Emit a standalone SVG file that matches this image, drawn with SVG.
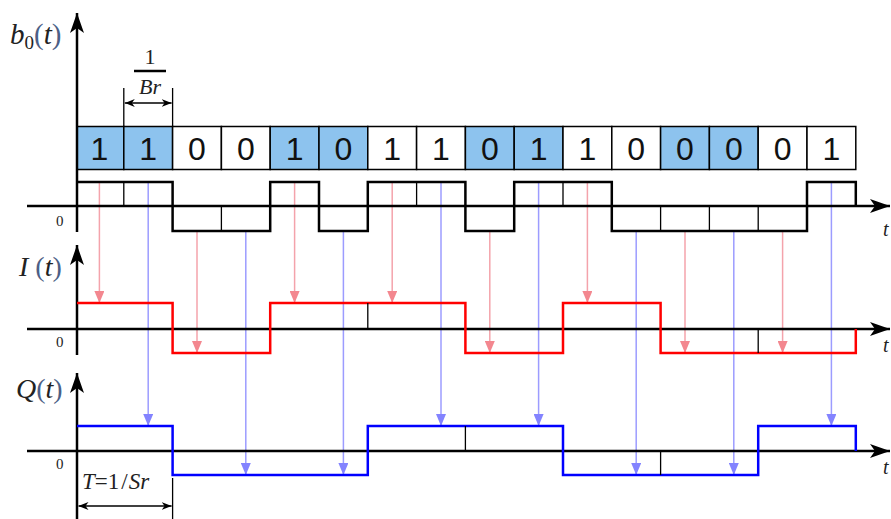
<svg xmlns="http://www.w3.org/2000/svg" width="891" height="519" viewBox="0 0 891 519">
<style>
.box{stroke:#000;stroke-width:1.5}
.bl{fill:#8dc3ee}
.wh{fill:#fff}
.dig{font-family:"Liberation Sans",Arial,sans-serif;font-size:32px;fill:#111;text-anchor:middle}
.ax{stroke:#000;stroke-width:2.5;fill:none}
.wave{stroke:#000;stroke-width:2.5;fill:none}
.div{stroke:#000;stroke-width:1.3}
.ar{stroke:#f4a3ab;stroke-width:1.5;fill:none}
.ab{stroke:#9c9cff;stroke-width:1.5;fill:none}
.m{font-family:"Liberation Serif","Times New Roman",serif;font-style:italic;fill:#222}
.up{font-style:normal}
.par{fill:#4c5f86;font-style:normal}
.z{font-family:"Liberation Serif","Times New Roman",serif;font-size:15px;fill:#222}
.dim{stroke:#000;stroke-width:1.3;fill:none}
</style>
<defs>
<marker id="hr" viewBox="0 0 12 10" refX="12" refY="5" markerWidth="12" markerHeight="10" markerUnits="userSpaceOnUse" orient="auto"><path d="M0,0 L12,5 L0,10 z" fill="#f3878f"/></marker>
<marker id="hb" viewBox="0 0 12 10" refX="12" refY="5" markerWidth="12" markerHeight="10" markerUnits="userSpaceOnUse" orient="auto"><path d="M0,0 L12,5 L0,10 z" fill="#8383ff"/></marker>
<marker id="ha" viewBox="0 0 20 14" refX="20" refY="7" markerWidth="20" markerHeight="14" markerUnits="userSpaceOnUse" orient="auto"><path d="M0,0 L20,7 L0,14 L5,7 z" fill="#000"/></marker>
<marker id="dh" viewBox="0 0 10 8" refX="10" refY="4" markerWidth="10" markerHeight="8" markerUnits="userSpaceOnUse" orient="auto-start-reverse"><path d="M0,0 L10,4 L0,8 L3,4 z" fill="#000"/></marker>
</defs>

<g id="bits">
<rect class="box bl" x="77" y="126.5" width="46.8" height="43"/>
<rect class="box bl" x="123.8" y="126.5" width="48.8" height="43"/>
<rect class="box wh" x="172.6" y="126.5" width="48.8" height="43"/>
<rect class="box wh" x="221.4" y="126.5" width="48.8" height="43"/>
<rect class="box bl" x="270.2" y="126.5" width="48.8" height="43"/>
<rect class="box bl" x="319" y="126.5" width="48.8" height="43"/>
<rect class="box wh" x="367.8" y="126.5" width="48.8" height="43"/>
<rect class="box wh" x="416.6" y="126.5" width="48.8" height="43"/>
<rect class="box bl" x="465.4" y="126.5" width="48.8" height="43"/>
<rect class="box bl" x="514.2" y="126.5" width="48.8" height="43"/>
<rect class="box wh" x="563" y="126.5" width="48.8" height="43"/>
<rect class="box wh" x="611.8" y="126.5" width="48.8" height="43"/>
<rect class="box bl" x="660.6" y="126.5" width="48.8" height="43"/>
<rect class="box bl" x="709.4" y="126.5" width="48.8" height="43"/>
<rect class="box wh" x="758.2" y="126.5" width="48.8" height="43"/>
<rect class="box wh" x="807" y="126.5" width="48.8" height="43"/>
<text class="dig" x="99.4" y="159.5">1</text>
<text class="dig" x="148.2" y="159.5">1</text>
<text class="dig" x="197" y="159.5">0</text>
<text class="dig" x="245.8" y="159.5">0</text>
<text class="dig" x="294.6" y="159.5">1</text>
<text class="dig" x="343.4" y="159.5">0</text>
<text class="dig" x="392.2" y="159.5">1</text>
<text class="dig" x="441" y="159.5">1</text>
<text class="dig" x="489.8" y="159.5">0</text>
<text class="dig" x="538.6" y="159.5">1</text>
<text class="dig" x="587.4" y="159.5">1</text>
<text class="dig" x="636.2" y="159.5">0</text>
<text class="dig" x="685" y="159.5">0</text>
<text class="dig" x="733.8" y="159.5">0</text>
<text class="dig" x="782.6" y="159.5">0</text>
<text class="dig" x="831.4" y="159.5">1</text>
</g>

<g id="connectors">
<line class="ar" x1="99.4" y1="182" x2="99.4" y2="303" marker-end="url(#hr)"/>
<line class="ab" x1="148.2" y1="182" x2="148.2" y2="426" marker-end="url(#hb)"/>
<line class="ar" x1="197" y1="231" x2="197" y2="353" marker-end="url(#hr)"/>
<line class="ab" x1="245.8" y1="231" x2="245.8" y2="475" marker-end="url(#hb)"/>
<line class="ar" x1="294.6" y1="182" x2="294.6" y2="303" marker-end="url(#hr)"/>
<line class="ab" x1="343.4" y1="231" x2="343.4" y2="475" marker-end="url(#hb)"/>
<line class="ar" x1="392.2" y1="182" x2="392.2" y2="303" marker-end="url(#hr)"/>
<line class="ab" x1="441" y1="182" x2="441" y2="426" marker-end="url(#hb)"/>
<line class="ar" x1="489.8" y1="231" x2="489.8" y2="353" marker-end="url(#hr)"/>
<line class="ab" x1="538.6" y1="182" x2="538.6" y2="426" marker-end="url(#hb)"/>
<line class="ar" x1="587.4" y1="182" x2="587.4" y2="303" marker-end="url(#hr)"/>
<line class="ab" x1="636.2" y1="231" x2="636.2" y2="475" marker-end="url(#hb)"/>
<line class="ar" x1="685" y1="231" x2="685" y2="353" marker-end="url(#hr)"/>
<line class="ab" x1="733.8" y1="231" x2="733.8" y2="475" marker-end="url(#hb)"/>
<line class="ar" x1="782.6" y1="231" x2="782.6" y2="353" marker-end="url(#hr)"/>
<line class="ab" x1="831.4" y1="182" x2="831.4" y2="426" marker-end="url(#hb)"/>
</g>

<g id="axes">
<line class="ax" x1="77" y1="232" x2="77" y2="13" marker-end="url(#ha)"/>
<line class="ax" x1="27" y1="206" x2="890" y2="206" marker-end="url(#ha)"/>
<line class="ax" x1="77" y1="355" x2="77" y2="245" marker-end="url(#ha)"/>
<line class="ax" x1="27" y1="329" x2="890" y2="329" marker-end="url(#ha)"/>
<line class="ax" x1="77" y1="519" x2="77" y2="373" marker-end="url(#ha)"/>
<line class="ax" x1="27" y1="451" x2="890" y2="451" marker-end="url(#ha)"/>
</g>

<g id="b0-wave">
<path class="wave" d="M77,182 H172.6 V231 H270.2 V182 H319 V231 H367.8 V182 H465.4 V231 H514.2 V182 H611.8 V231 H807 V182 H855.8 V206"/>
<path class="div" d="M123.8,182 V206 M221.4,206 V231 M416.6,182 V206 M563,182 V206 M660.6,206 V231 M709.4,206 V231 M758.2,206 V231"/>
</g>

<g id="I-wave">
<path class="wave" style="stroke:#ff0000" d="M77,303 H172.6 V353 H270.2 V303 H465.4 V353 H563 V303 H660.6 V353 H855.8 V329"/>
<path class="div" d="M367.8,303 V329 M758.2,329 V353"/>
</g>

<g id="Q-wave">
<path class="wave" style="stroke:#0000ff" d="M77,426 H172.6 V475 H367.8 V426 H563 V475 H758.2 V426 H855.8 V451"/>
<path class="div" d="M465.4,426 V451 M660.6,451 V475"/>
</g>

<g id="labels">
<text class="m" x="10" y="44" font-size="29">b<tspan class="up" font-size="19" dy="5">0</tspan><tspan class="par" dy="-5">(</tspan>t<tspan class="par">)</tspan></text>
<text class="m" x="19" y="276" font-size="28">I<tspan class="par"> (</tspan>t<tspan class="par">)</tspan></text>
<text class="m" x="16" y="398" font-size="28">Q<tspan class="par">(</tspan>t<tspan class="par">)</tspan></text>
<text class="z" x="56" y="226">0</text>
<text class="z" x="56" y="347">0</text>
<text class="z" x="56" y="469">0</text>
<text class="m" x="883" y="236" font-size="20">t</text>
<text class="m" x="883" y="352" font-size="20">t</text>
<text class="m" x="883" y="474" font-size="20">t</text>
</g>

<g id="dim-Br">
<text class="m up" x="150" y="64" font-size="22" text-anchor="middle">1</text>
<line x1="134" y1="71" x2="166" y2="71" stroke="#000" stroke-width="2.5"/>
<text class="m" x="150" y="94" font-size="22" text-anchor="middle">Br</text>
<path class="dim" d="M123.8,88 V126 M172.6,88 V126"/>
<line class="dim" x1="124.8" y1="103" x2="171.6" y2="103" marker-start="url(#dh)" marker-end="url(#dh)"/>
</g>

<g id="dim-Sr">
<text class="m" x="82" y="489" font-size="23">T<tspan class="up">=1</tspan><tspan class="up" dx="2">/</tspan><tspan dx="1">Sr</tspan></text>
<path class="dim" d="M172.6,478 V519"/>
<line class="dim" x1="78.5" y1="506" x2="171.6" y2="506" marker-start="url(#dh)" marker-end="url(#dh)"/>
</g>
</svg>
